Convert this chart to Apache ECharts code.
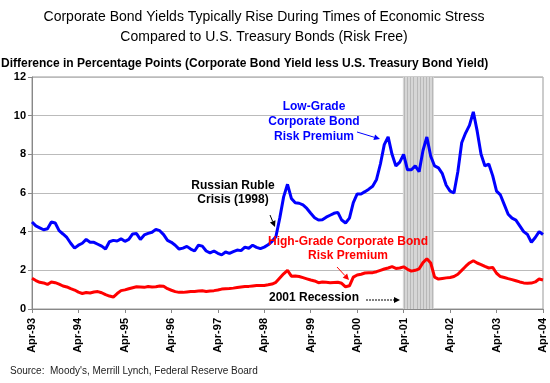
<!DOCTYPE html>
<html><head><meta charset="utf-8">
<script src="https://cdn.jsdelivr.net/npm/echarts@6/dist/echarts.min.js"></script>
<style>html,body{margin:0;padding:0;background:#fff}#c{width:550px;height:383px}</style>
</head><body><div id="c"></div>
<script>
// months since Apr-1993 (0..132)
var months = [];
for (var i = 0; i <= 132; i++) months.push(i);
var xTickLabels = ['Apr-93','Apr-94','Apr-95','Apr-96','Apr-97','Apr-98','Apr-99','Apr-00','Apr-01','Apr-02','Apr-03','Apr-04'];
var yTicks = [0,2,4,6,8,10,12];
var lowGrade = [4.5,4.3,4.2,4.1,4.15,4.5,4.45,4.05,3.88,3.7,3.4,3.15,3.3,3.4,3.6,3.45,3.45,3.35,3.25,3.1,3.48,3.55,3.52,3.63,3.5,
3.6,3.88,3.9,3.6,3.83,3.91,3.97,4.12,4.05,3.85,3.55,3.45,3.3,3.1,3.15,3.24,3.1,3.0,3.3,3.25,3.0,2.9,3.0,2.88,
2.8,2.95,2.88,2.97,3.05,3.02,3.2,3.14,3.3,3.19,3.12,3.2,3.32,3.5,3.74,4.7,5.8,6.45,5.72,5.5,5.47,5.38,5.2,4.95,
4.72,4.6,4.62,4.75,4.85,4.95,5.0,4.6,4.45,4.7,5.5,5.95,5.95,6.07,6.2,6.35,6.7,7.5,8.5,8.9,8.0,7.4,7.6,8.0,
7.2,7.2,7.4,7.1,8.2,8.9,7.9,7.4,7.3,7.0,6.4,6.1,6.0,7.1,8.6,9.1,9.5,10.2,9.2,8.0,7.4,7.5,6.9,6.1,
5.9,5.4,4.9,4.7,4.6,4.3,4.0,3.85,3.45,3.7,4.0,3.85];
var highGrade = [1.59,1.47,1.38,1.35,1.27,1.4,1.36,1.29,1.19,1.14,1.05,0.98,0.87,0.8,0.85,0.83,0.88,0.9,0.84,0.74,0.67,0.62,0.8,0.95,0.99,
1.05,1.1,1.15,1.14,1.12,1.16,1.14,1.15,1.19,1.18,1.05,0.97,0.9,0.86,0.86,0.88,0.9,0.91,0.93,0.94,0.91,0.93,0.95,0.98,
1.03,1.05,1.06,1.08,1.11,1.14,1.16,1.17,1.19,1.21,1.21,1.22,1.25,1.29,1.38,1.6,1.82,2.0,1.7,1.71,1.68,1.62,1.56,1.5,
1.45,1.36,1.4,1.38,1.36,1.37,1.38,1.33,1.15,1.2,1.65,1.76,1.8,1.86,1.88,1.88,1.93,2.0,2.07,2.12,2.19,2.1,2.12,2.18,
2.05,1.96,2.0,2.08,2.4,2.6,2.38,1.65,1.55,1.58,1.61,1.63,1.68,1.8,2.0,2.2,2.38,2.5,2.38,2.3,2.2,2.12,2.15,1.85,
1.68,1.63,1.57,1.52,1.46,1.4,1.35,1.33,1.34,1.4,1.55,1.5];
var recession = [95.8, 103.8];

function pairs(v){ return months.map(function(m,i){ return [m, v[i]]; }); }
var stripes = [];
for (var s = recession[0] + 0.4; s < recession[1]; s += 0.8) stripes.push({xAxis: s});

var F = "'Liberation Sans', Arial, sans-serif";
var chart = echarts.init(document.getElementById('c'), null, {renderer:'canvas'});
function arrow(x1,y1,x2,y2,color,dashed){
  var a = Math.atan2(y2-y1,x2-x1), L=6, W=3;
  var bx = x2 - L*Math.cos(a), by = y2 - L*Math.sin(a);
  return [
    {type:'line', z:100, shape:{x1:x1,y1:y1,x2:bx,y2:by}, style:{stroke:color, lineWidth:1, lineDash: dashed?[2,1]:null}},
    {type:'polygon', z:100, shape:{points:[[x2,y2],[bx+W*Math.sin(a),by-W*Math.cos(a)],[bx-W*Math.sin(a),by+W*Math.cos(a)]]}, style:{fill:color}}
  ];
}
var g = [
  {type:'text', style:{text:'Corporate Bond Yields Typically Rise During Times of Economic Stress', fill:'#000', font:'14px '+F, align:'center'}, x:264, y:10},
  {type:'text', style:{text:'Compared to U.S. Treasury Bonds (Risk Free)', fill:'#000', font:'14px '+F, align:'center'}, x:264, y:30},
  {type:'text', style:{text:'Difference in Percentage Points (Corporate Bond Yield less U.S. Treasury Bond Yield)', fill:'#000', font:'bold 12px '+F}, x:1, y:58},
  {type:'text', style:{text:"Source:  Moody's, Merrill Lynch, Federal Reserve Board", fill:'#222', font:'10px '+F}, x:10, y:366},
  {type:'text', z:100, style:{text:'Low-Grade\nCorporate Bond\nRisk Premium', fill:'#0000ff', font:'bold 12px '+F, align:'center', lineHeight:15}, x:314, y:99},
  {type:'text', z:100, style:{text:'Russian Ruble\nCrisis (1998)', fill:'#000', font:'bold 12px '+F, align:'center', lineHeight:14}, x:233, y:179},
  {type:'text', z:100, style:{text:'High-Grade Corporate Bond\nRisk Premium', fill:'#ff0000', font:'bold 12px '+F, align:'center', lineHeight:14}, x:348, y:235},
  {type:'text', z:100, style:{text:'2001 Recession', fill:'#000', font:'bold 12px '+F, align:'center'}, x:314, y:292}
];
g = g.concat(arrow(357,132,380,139,'#0000ff'));
g = g.concat(arrow(270,215,275,227,'#000'));
g = g.concat(arrow(337,267,349,280,'#ff0000'));
g = g.concat(arrow(366,300,400,300,'#000',true));

chart.setOption({
  animation:false,
  textStyle:{fontFamily:F},
  grid:{left:32, right:7, top:77, bottom:74, show:true, borderColor:'#999', borderWidth:1},
  graphic:g,
  xAxis:{type:'value', min:0, max:132, interval:12,
    axisLine:{lineStyle:{color:'#888', width:1}},
    axisTick:{show:true, length:4, lineStyle:{color:'#888'}},
    splitLine:{show:false},
    axisLabel:{rotate:90, fontWeight:'bold', fontSize:11, color:'#000', margin:9, fontFamily:F,
      formatter:function(v){ return xTickLabels[Math.round(v/12)]; }}},
  yAxis:{type:'value', min:0, max:12, interval:2,
    axisLine:{show:true, lineStyle:{color:'#888', width:1}},
    axisTick:{show:true, length:4, lineStyle:{color:'#888'}},
    splitLine:{lineStyle:{color:'#bbb', width:1}},
    axisLabel:{fontWeight:'bold', fontSize:11, color:'#000', margin:6, fontFamily:F,
      formatter:function(v){ return yTicks.indexOf(v) >= 0 ? String(v) : ''; }}},
  series:[
    {type:'line', name:'Recession', data:[], z:1, silent:true,
      markArea:{silent:true, z:1, itemStyle:{color:'#d6d6d6'}, data:[[{xAxis:recession[0]},{xAxis:recession[1]}]]},
      markLine:{silent:true, z:1, symbol:['none','none'], label:{show:false}, lineStyle:{color:'#b8b8b8', width:1, type:'solid'}, data:stripes}},
    {type:'line', name:'Low-Grade', data:pairs(lowGrade), showSymbol:false, lineStyle:{color:'#0000ff', width:3}, z:5},
    {type:'line', name:'High-Grade', data:pairs(highGrade), showSymbol:false, lineStyle:{color:'#ff0000', width:3}, z:5}
  ]
});
</script></body></html>
